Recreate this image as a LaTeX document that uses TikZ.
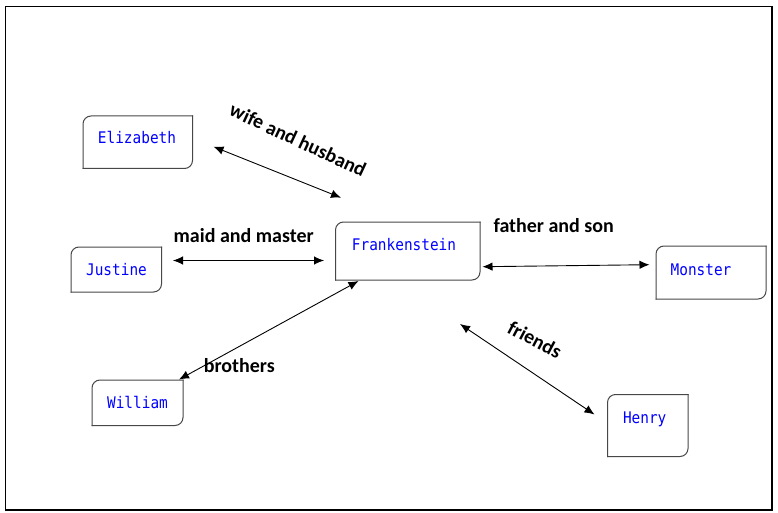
\documentclass[tikz,border=0pt]{standalone}
\usepackage{fontspec}
\setmainfont{Carlito}
\newfontfamily\boxfont[FakeStretch=0.9]{DejaVu Sans Mono}
\usetikzlibrary{arrows.meta}
\tikzset{
  boxtext/.style={font=\boxfont\fontsize{16}{18}\selectfont, text=blue, inner sep=0pt, anchor=base},
  rel/.style={font=\bfseries\fontsize{20}{22}\selectfont, inner sep=0pt, anchor=base},
  link/.style={{Latex[length=10pt,width=8.5pt]}-{Latex[length=10pt,width=8.5pt]}, line width=0.9pt},
  boxline/.style={draw=black!72, line width=1pt, rounded corners=8pt, line cap=rect},
  frame/.style={draw=black, line width=1.6pt},
}
\newcommand\diagbox[4]{%
  \draw[boxline] (#1,#4) -- (#1,#2) -- (#3,#2);
  \draw[boxline] (#3,#2) -- (#3,#4) -- (#1,#4);
}
\begin{document}
\begin{tikzpicture}[x=1pt,y=-1pt]
\useasboundingbox (0,0) rectangle (778,513);
\draw[frame] (5.5,6.5) rectangle (772,510);

% boxes
\diagbox{83}{116}{192.5}{168.5}
\diagbox{71}{247}{161.5}{292}
\diagbox{335.5}{222}{480}{280}
\diagbox{656}{246}{766}{299}
\diagbox{92}{380}{183}{425.5}
\diagbox{607.5}{394.5}{688}{456.5}

% box texts
\node[boxtext] (eliz) at (137,144) {Elizabeth};
\node[boxtext] (just) at (116.5,275) {Justine};
\node[boxtext] (frank) at (404,250) {Frankenstein};
\node[boxtext] (mons) at (701,275.3) {Monster};
\node[boxtext] (will) at (137.5,408.3) {William};
\node[boxtext] (henry) at (644.7,423.3) {Henry};

% connector ends
\coordinate (eA) at (213.5,146.7);
\coordinate (eB) at (341,197.7);
\coordinate (jA) at (173,260.5);
\coordinate (jB) at (324,260.5);
\coordinate (wA) at (179,379.5);
\coordinate (wB) at (358.5,281);
\coordinate (mA) at (482.5,266.7);
\coordinate (mB) at (649.5,264.7);
\coordinate (hA) at (460,324);
\coordinate (hB) at (594.5,414.5);

\draw[link] (eA) -- (eB);
\draw[link] (jA) -- (jB);
\draw[link] (wA) -- (wB);
\draw[link] (mA) -- (mB);
\draw[link] (hA) -- (hB);

% relation labels
\node[rel, rotate=-25] (lwh) at (295,146.2) {wife and husband};
\node[rel] (lmm) at (243.7,242.7) {maid and master};
\node[rel] (lbr) at (239.3,372.7) {brothers};
\node[rel] (lfs) at (553.7,232.3) {father and son};
\node[rel, rotate=-28] (lfr) at (531.7,345.8) {friends};
\end{tikzpicture}
\end{document}
